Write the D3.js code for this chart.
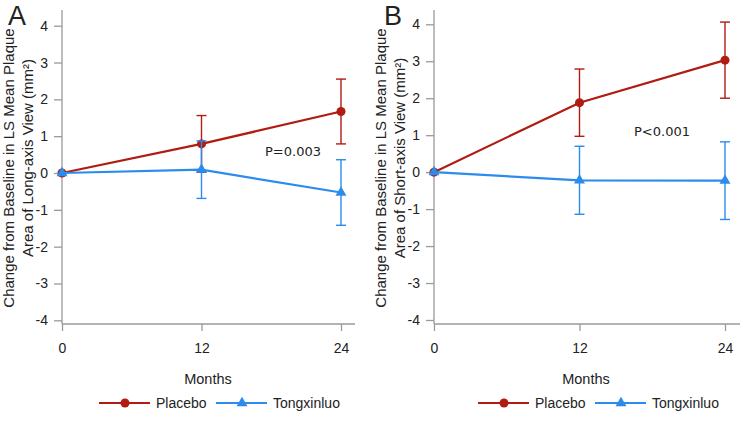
<!DOCTYPE html>
<html><head><meta charset="utf-8">
<script src="https://cdn.jsdelivr.net/npm/d3@7"></script>
<style>body{margin:0;background:#fff}svg{display:block}text{font-family:"Liberation Sans",Arial,sans-serif;fill:#222}</style>
</head><body><svg id="c" width="744" height="422"></svg>
<script>
const months = [0, 12, 24];
const xTicks = [0, 12, 24];
const yTicks = [-4, -3, -2, -1, 0, 1, 2, 3, 4];
const seriesNames = ["Placebo", "Tongxinluo"];
const colors = ["#b01c12", "#2b8ced"];
// Panel A (long-axis view)
const placeboA = [0, 0.79, 1.67];
const placeboAerr = [0, 0.77, 0.88];
const tongA = [0, 0.09, -0.53];
const tongAerr = [0, 0.78, 0.89];
// Panel B (short-axis view)
const placeboB = [0, 1.88, 3.03];
const placeboBerr = [0, 0.91, 1.03];
const tongB = [0, -0.22, -0.23];
const tongBerr = [0, 0.92, 1.05];
const panelLetters = ["A", "B"];
const yLabels = [["Change from Baseline in LS Mean Plaque", "Area of Long-axis View (mm²)"],
                 ["Change from Baseline in LS Mean Plaque", "Area of Short-axis View (mm²)"]];
const pLabels = ["P=0.003", "P<0.001"];

const svg = d3.select("#c");
const panels = [
  {ox: 62, x24: 341, xEnd: 355, yTop: 25.7, yBot: 320.3, axisY: 324, axisTop: 10,
   data: [[placeboA, placeboAerr], [tongA, tongAerr]], p: pLabels[0], pPos: [293, 156], legX: 99, monthsX: 208, letter: panelLetters[0], letterX: 8, ylab: yLabels[0]},
  {ox: 434, x24: 725, xEnd: 740, yTop: 24.3, yBot: 320, axisY: 324, axisTop: 10,
   data: [[placeboB, placeboBerr], [tongB, tongBerr]], p: pLabels[1], pPos: [662, 136], legX: 478, monthsX: 586, letter: panelLetters[1], letterX: 384, ylab: yLabels[1]}
];

panels.forEach(P => {
  const g = svg.append("g");
  const x = d3.scaleLinear().domain([0, 24]).range([P.ox, P.x24]);
  const y = d3.scaleLinear().domain([-4, 4]).range([P.yBot, P.yTop]);
  const axisColor = "#9a9a9a";
  g.append("line").attr("x1", P.ox).attr("x2", P.ox).attr("y1", P.axisTop).attr("y2", P.axisY).attr("stroke", axisColor).attr("stroke-width", 1.3);
  g.append("line").attr("x1", P.ox).attr("x2", P.xEnd).attr("y1", P.axisY).attr("y2", P.axisY).attr("stroke", axisColor).attr("stroke-width", 1.3);
  const ya = g.append("g").attr("transform", `translate(${P.ox},0)`)
    .call(d3.axisLeft(y).tickValues(yTicks).tickSize(8).tickSizeOuter(0).tickPadding(6).tickFormat(d => String(d)));
  ya.select(".domain").remove();
  ya.selectAll("line").attr("stroke", axisColor).attr("stroke-width", 1.3);
  ya.selectAll("text").style("font-size", "14px").attr("fill", "#222");
  const xa = g.append("g").attr("transform", `translate(0,${P.axisY})`)
    .call(d3.axisBottom(x).tickValues(xTicks).tickSize(7).tickSizeOuter(0).tickPadding(12).tickFormat(d => String(d)));
  xa.select(".domain").remove();
  xa.selectAll("line").attr("stroke", axisColor).attr("stroke-width", 1.3);
  xa.selectAll("text").style("font-size", "14px").attr("fill", "#222");

  const cx = P.ox - 48;
  g.append("text").attr("transform", `translate(${cx},168) rotate(-90)`).attr("text-anchor", "middle")
    .style("font-size", "15px").text(P.ylab[0]);
  g.append("text").attr("transform", `translate(${cx + 19},158) rotate(-90)`).attr("text-anchor", "middle")
    .style("font-size", "15px").text(P.ylab[1]);
  g.append("text").attr("x", P.letterX).attr("y", 24.5).style("font-size", "27px").text(P.letter);
  g.append("text").attr("x", P.monthsX).attr("y", 384).attr("text-anchor", "middle").style("font-size", "14.5px").text("Months");
  g.append("text").attr("x", P.pPos[0]).attr("y", P.pPos[1]).attr("text-anchor", "middle")
    .style("font-size", "13px").style("font-family", "'DejaVu Sans', sans-serif").text(P.p);

  const line = d3.line().x((d, i) => x(months[i])).y(d => y(d));
  P.data.forEach(([vals, errs], si) => {
    const col = colors[si];
    const s = g.append("g");
    vals.forEach((v, i) => {
      if (errs[i] <= 0) return;
      const xx = x(months[i]);
      s.append("line").attr("x1", xx).attr("x2", xx).attr("y1", y(v - errs[i])).attr("y2", y(v + errs[i])).attr("stroke", col).attr("stroke-width", 1.4);
      [v - errs[i], v + errs[i]].forEach(e => s.append("line").attr("x1", xx - 5).attr("x2", xx + 5).attr("y1", y(e)).attr("y2", y(e)).attr("stroke", col).attr("stroke-width", 1.4));
    });
    s.append("path").datum(vals).attr("d", line).attr("fill", "none").attr("stroke", col).attr("stroke-width", 2.2);
    const sym = si === 0 ? d3.symbolCircle : d3.symbolTriangle;
    const size = si === 0 ? 64 : 52;
    s.selectAll("path.m").data(vals).join("path").attr("class", "m")
      .attr("transform", (d, i) => `translate(${x(months[i])},${y(d)})`)
      .attr("d", d3.symbol(sym, size)).attr("fill", col);
  });

  const ly = 403;
  seriesNames.forEach((nm, si) => {
    const lx = P.legX + si * 117;
    g.append("line").attr("x1", lx).attr("x2", lx + 51).attr("y1", ly).attr("y2", ly).attr("stroke", colors[si]).attr("stroke-width", 2.2);
    g.append("path").attr("transform", `translate(${lx + 26},${ly})`).attr("d", d3.symbol(si === 0 ? d3.symbolCircle : d3.symbolTriangle, si === 0 ? 64 : 52)).attr("fill", colors[si]);
    g.append("text").attr("x", lx + 57).attr("y", ly + 5).style("font-size", "14px").text(nm);
  });
});
</script></body></html>
